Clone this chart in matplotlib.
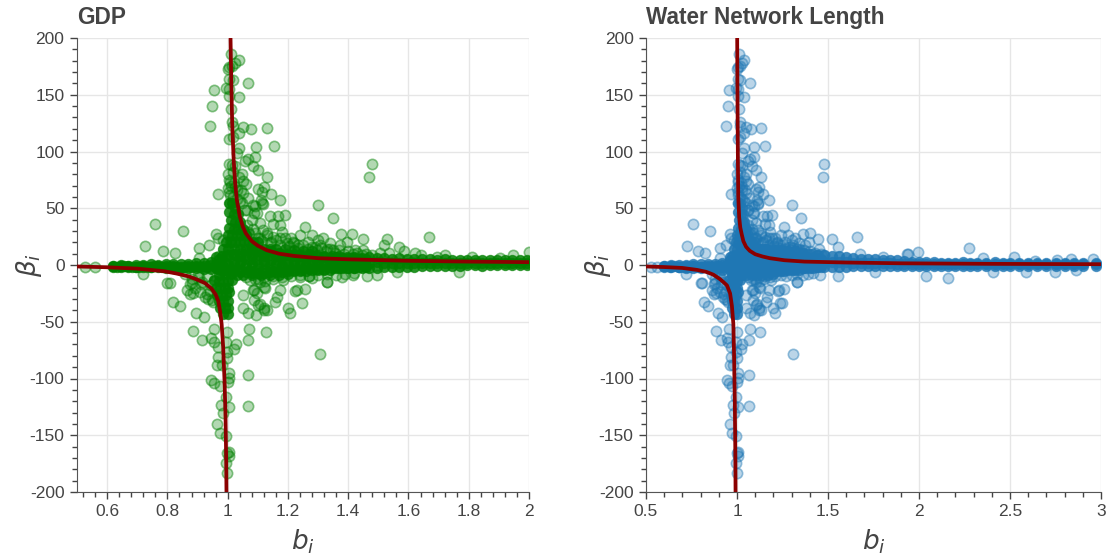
#!/usr/bin/env python3
import matplotlib
matplotlib.use("Agg")
import matplotlib.pyplot as plt
from matplotlib.colors import to_rgba
from matplotlib.ticker import FixedLocator, MultipleLocator

plt.rcParams['font.family'] = ['Liberation Sans', 'DejaVu Sans']
plt.rcParams['mathtext.fontset'] = 'dejavusans'

TEXT_COL = '#444444'
GRID_COL = '#e6e6e6'
CURVE_COL = '#8b0000'

# outliers, nearly the same in both panels
b_top = [1.010, 1.036, 1.025, 1.006, 1.000, 1.014, 1.003, 1.017, 1.069, 0.956, 0.995, 1.006, 1.038, 1.003, 0.948,
         1.010, 0.941, 1.015, 1.019, 1.050, 1.077, 1.132, 1.036, 1.019, 1.006, 1.036, 1.093, 1.153, 1.030, 1.091,
         1.069, 1.058, 1.083, 1.102, 1.003, 1.014, 1.025, 1.019, 1.132, 1.047, 1.036, 1.008, 1.061, 1.102, 1.119,
         1.115, 0.967, 1.003, 1.025, 1.052, 1.067, 1.143, 1.110, 1.174, 1.117, 1.091, 1.008, 1.300, 1.047, 1.088,
         1.058, 1.141, 1.166, 1.191, 1.351, 1.480, 1.470,
         1.000, 1.005, 1.012, 1.020, 1.030, 1.008, 1.018, 1.030, 1.040, 1.000, 1.050, 1.045]
beta_top = [185.9, 180.6, 178.2, 174.1, 172.9, 175.3, 163.5, 163.0, 160.0, 153.9, 155.9, 154.7, 148.0, 148.9, 140.3,
            137.4, 122.7, 126.2, 122.4, 121.3, 119.5, 120.7, 116.0, 113.0, 110.7, 103.3, 104.2, 104.8, 98.3, 94.8,
            93.0, 91.6, 87.5, 83.7, 89.0, 88.0, 87.2, 82.2, 77.8, 80.1, 77.8, 73.4, 71.3, 66.9, 69.0,
            64.6, 62.2, 64.6, 69.0, 63.7, 59.3, 62.5, 57.2, 57.5, 53.7, 51.9, 54.3, 52.8, 54.3, 46.1,
            48.4, 43.1, 43.1, 44.0, 41.1, 89.0, 77.5,
            80.0, 75.0, 70.0, 72.0, 66.0, 62.0, 60.0, 58.0, 56.0, 68.0, 74.0, 66.0]

b_bottom = [0.818, 0.842, 0.895, 0.920, 0.886, 0.914, 0.956, 0.999, 1.070, 1.126, 1.068, 0.944, 0.953, 0.969, 0.995,
            1.028, 1.022, 0.997, 1.305, 0.969, 0.999, 0.964, 0.980, 1.003, 1.067, 1.005, 0.945, 0.955, 0.973, 1.000,
            0.995, 0.977, 1.003, 1.066, 0.983, 0.964, 0.975, 0.994, 1.006, 0.999, 1.004, 0.993, 0.998,
            1.050, 1.086, 1.097, 1.122, 1.163, 1.157, 1.108, 1.122, 1.130, 1.052, 1.069, 1.095, 1.086, 1.199, 1.207,
            1.246, 1.224, 1.257, 1.331, 0.875, 0.909, 0.931, 0.947, 1.229, 1.174, 1.107, 1.085, 1.124, 1.102, 1.119,
            0.809, 0.865, 0.885]
beta_bottom = [-32.3, -36.1, -42.6, -45.5, -57.8, -66.1, -56.7, -58.7, -56.7, -59.3, -66.1, -64.6, -67.5, -71.9, -67.5,
               -69.9, -74.3, -76.3, -78.7, -80.7, -82.2, -87.8, -88.1, -94.8, -97.2, -99.2, -101.3, -104.2, -106.6, -103.0,
               -116.0, -123.3, -125.4, -124.2, -130.7, -140.4, -147.7, -150.6, -164.4, -165.9, -168.0, -174.6, -183.0,
               -26.4, -22.0, -25.0, -19.0, -27.9, -32.9, -34.3, -38.2, -39.6, -38.2, -42.6, -44.0, -30.8, -37.6, -42.6,
               -33.8, -22.9, -21.4, -14.7, -25.5, -23.5, -25.5, -30.8, -22.0, -22.0, -14.7, -22.0, -20.5, -35.2, -39.6,
               -16.0, -22.0, -25.0]

# scatter either side of the band, left of 1 and in the wedge right of it
b_side = [0.759, 0.852, 0.726, 0.785, 0.825, 0.905, 0.938, 0.961, 0.968, 0.985, 1.008, 0.905, 0.970, 0.720, 0.800,
          0.875, 0.527, 0.560, 1.152, 1.174, 1.179, 1.240, 1.279, 1.318, 1.301, 1.257, 1.118, 1.096, 1.085, 1.113,
          1.063, 1.218, 1.340, 1.373, 1.395, 1.130, 1.152, 1.174, 1.196, 1.140, 1.107, 1.090, 1.107, 1.080, 1.063,
          1.069, 1.307, 1.351, 1.210, 1.235, 1.265, 1.290, 1.330, 1.150, 1.185, 1.125, 1.100, 1.075,
          1.040, 1.055, 1.070, 1.085, 1.100, 1.115, 1.130, 1.145, 1.160, 1.175, 1.190, 1.205, 1.220, 1.235, 1.250,
          1.265, 1.280, 1.295, 1.310, 1.325, 1.340, 1.355, 1.370, 1.385, 1.400, 1.415, 1.430, 1.445, 1.460, 1.480,
          1.060, 1.090, 1.120, 1.150, 1.180, 1.210, 1.240, 1.270, 1.300, 1.330, 1.360, 1.390, 1.420,
          0.860, 0.880, 0.900, 0.915, 0.930, 0.945, 0.955, 0.890, 0.910, 0.925, 0.940, 0.950, 0.880, 0.905, 0.935]
beta_side = [36.1, 30.0, 16.3, 12.5, 10.4, 14.7, 17.7, 27.5, 24.0, 22.0, 20.4, 6.0, 8.0, -8.0, -16.0,
             -17.0, -1.5, -2.0, 36.0, 35.0, 29.4, 26.5, 26.5, 23.5, 22.0, 33.8, 30.9, 45.5, 52.9, 54.4,
             48.5, 20.6, 19.1, 17.6, 20.6, 28.0, 25.0, 23.5, 19.0, 19.0, 23.5, 28.0, 36.7, 39.7, 35.0,
             29.4, 17.6, 13.2, 24.0, 18.0, 20.0, 16.0, 14.0, -12.0, -13.0, -14.0, -12.0, -13.0,
             34.0, 30.0, 27.0, 32.0, 24.0, 21.0, 26.0, 20.0, 22.0, 18.0, 24.0, 17.0, 19.0, 15.0, 18.0,
             14.0, 16.0, 13.0, 15.0, 12.0, 14.0, 11.0, 13.0, 10.0, 12.0, 10.0, 11.0, 9.0, 10.0, 9.0,
             -11.0, -12.0, -11.0, -10.0, -11.0, -10.0, -9.0, -10.0, -9.0, -8.0, -9.0, -8.0, -7.0,
             -8.0, -12.0, -9.0, -15.0, -10.0, -18.0, -14.0, -20.0, -17.0, -28.0, -23.0, -33.0, -16.0, -11.0, -30.0]

# right hand tails, differ per panel
gdp_tail_b = [1.412, 1.450, 1.528, 1.669, 1.567, 1.948, 2.000, 1.506, 1.622, 1.694, 1.810, 1.904, 1.329, 1.279, 1.379,
              1.415, 1.461, 1.495, 1.769, 1.561, 1.376, 1.423, 1.450, 1.520, 1.240, 1.270, 1.535, 1.585, 1.640, 1.720]
gdp_tail_beta = [27.0, 22.6, 22.6, 24.4, 16.2, 8.8, 11.8, 10.3, 10.3, 7.4, 7.4, 5.9, -14.7, -11.7, -10.2,
                 -8.8, -9.7, -8.8, -5.8, -5.8, 27.3, 13.2, 13.2, 18.0, -11.0, -10.0, 11.0, 12.0, 9.0, 8.5]
water_tail_b = [1.401, 1.443, 1.520, 1.661, 1.557, 1.993, 1.936, 1.804, 1.328, 1.236, 2.039, 1.758, 1.456, 1.938, 2.277,
                2.161, 2.409, 2.586, 2.747, 2.522, 2.354, 2.833, 2.958, 2.757, 1.364, 1.557, 1.450, 1.676, 2.860, 2.640]
water_tail_beta = [28.0, 22.6, 22.6, 24.4, 16.0, 11.8, 9.4, 7.4, -14.7, -33.7, -9.7, -6.4, -8.8, 9.4, 14.6,
                   -11.2, -5.9, -5.9, -5.9, 7.3, 5.8, 5.0, 5.0, 4.4, 27.0, -9.7, 14.0, 10.0, -4.5, 3.5]

# saturated blob around b = 1
blob_b = [1.005, 1.015, 1.025, 1.005, 1.020, 1.035, 1.010, 1.025, 1.040, 1.005, 1.020, 1.035, 1.050, 1.000, 1.015,
          1.030, 1.045, 1.060, 0.995, 1.010, 1.025, 1.040, 1.055, 1.070, 1.085, 1.100, 0.985, 1.000, 1.020, 1.040,
          1.060, 1.080, 1.100, 1.120, 1.140, 1.160, 1.190, 1.220, 1.250, 1.280, 0.990, 1.010, 0.970, 1.030, 1.050,
          1.080, 1.110, 1.140, 1.170, 1.200, 0.955, 0.970, 0.985, 1.000, 1.015, 0.960, 0.975, 0.990, 1.000, 0.965,
          0.980, 0.995, 1.005, 0.970, 0.985, 1.000, 0.975, 0.990, 1.000, 0.985, 1.000]
blob_beta = [55, 55, 50, 47, 45, 45, 40, 38, 38, 33, 32, 32, 32, 26, 26,
             26, 26, 26, 20, 20, 20, 20, 20, 20, 20, 20, 14, 14, 14, 14,
             14, 14, 14, 14, 14, 14, 14, 13, 12, 12, -8, -8, -9, -9, -9,
             -9, -9, -9, -9, -8, -13, -14, -14, -14, -13, -20, -20, -20, -20, -26,
             -26, -26, -24, -32, -32, -32, -38, -38, -38, -43, -43]

# extra filled rows where the band is thickest
fill_b = [0.960, 0.980, 1.000, 1.020, 1.040, 1.060, 1.080, 1.100, 1.120, 1.140, 1.160, 1.180, 1.200,
          1.220, 1.240, 1.260, 1.280, 1.300, 1.320, 1.340, 1.360, 1.380, 1.400, 1.420, 1.440, 1.460]
fill_beta_a = [7, 8, 9, 9, 8, 9, 8, 9, 8, 9, 8, 8, 9, 8, 8, 7, 8, 7, 7, 6, 7, 6, 6, 6, 5, 5]
fill_beta_b = [0, 0, 1, 0, 1, 0, 1, 0, 1, 0, 1, 0, 1, 0, 1, 0, 1, 0, 1, 0, 1, 0, 1, 0, 1, 0]
fill_beta_c = [-3, -4, -5, -5, -6, -6, -7, -7, -7, -6, -6, -6, -5, -5, -5, -5, -4, -4, -4, -4, -3, -3, -3, -3, -2, -2]
left_b = [0.632, 0.657, 0.682, 0.707, 0.732, 0.757, 0.782, 0.807, 0.832, 0.857, 0.882, 0.907, 0.932, 0.957, 0.983]
left_beta = [-2, -1, -2, -2, -2, -1, -2, -2, -2, -2, -2, -2, -2, -2, -2]

# dense band along beta = 0, three values per b
gdp_band_b = [0.620, 0.645, 0.670, 0.695, 0.720, 0.745, 0.770, 0.795, 0.820, 0.845, 0.870, 0.895, 0.920, 0.945, 0.970,
              0.995, 1.020, 1.045, 1.070, 1.095, 1.120, 1.145, 1.170, 1.195, 1.220, 1.245, 1.270, 1.295, 1.320, 1.345,
              1.370, 1.395, 1.420, 1.445, 1.470, 1.495, 1.520, 1.545, 1.570, 1.595, 1.620, 1.645, 1.670, 1.695, 1.720,
              1.745, 1.770, 1.795, 1.820, 1.845, 1.870, 1.895, 1.920, 1.945, 1.970, 1.995]
gdp_band_hi = [-0.5, 0.0, -0.5, 0.0, 0.0, 0.5, 0.0, 0.5, 1.0, 0.5, 1.0, 1.5, 2.0, 3.0, 5.0,
               8.0, 10.0, 11.0, 12.0, 12.0, 11.0, 12.0, 11.0, 10.0, 10.0, 9.0, 10.0, 9.0, 8.0, 8.0,
               8.0, 7.0, 7.0, 6.5, 7.0, 6.0, 6.0, 5.5, 6.0, 5.0, 5.5, 5.0, 5.0, 4.5, 5.0,
               4.5, 4.0, 4.5, 4.0, 4.5, 4.0, 4.0, 4.5, 4.0, 4.0, 4.5]
gdp_band_mid = [-1.0, -1.0, -1.0, -1.5, -1.0, -1.5, -1.0, -1.0, -1.0, -1.5, -1.0, -1.0, -0.5, 0.0, 1.0,
                2.0, 3.0, 3.5, 4.0, 4.0, 3.5, 4.0, 3.5, 3.5, 3.0, 3.5, 3.0, 3.0, 2.5, 3.0,
                3.0, 2.5, 2.5, 2.5, 2.0, 2.5, 2.0, 2.0, 2.0, 2.0, 2.0, 2.0, 2.0, 2.0, 2.0,
                2.0, 2.0, 2.0, 2.0, 2.0, 2.0, 2.0, 2.0, 2.0, 2.0, 2.0]
gdp_band_lo = [-1.5, -1.5, -2.0, -1.5, -2.0, -2.0, -2.0, -2.5, -2.5, -3.0, -3.0, -3.0, -3.5, -3.5, -4.0,
               -4.0, -4.0, -4.5, -4.0, -4.5, -4.0, -4.0, -4.5, -4.0, -4.0, -4.0, -3.5, -3.5, -3.5, -3.0,
               -3.0, -3.0, -3.0, -2.5, -2.5, -2.5, -2.0, -2.0, -2.0, -1.5, -1.5, -1.0, -1.0, -1.0, -0.5,
               -0.5, -0.5, 0.0, 0.0, -0.5, 0.0, 0.0, 0.0, 0.0, 0.0, 0.0]

water_band_b = [0.600, 0.640, 0.680, 0.720, 0.760, 0.800, 0.840, 0.880, 0.920, 0.960, 1.000, 1.040, 1.080, 1.120, 1.160,
                1.200, 1.240, 1.280, 1.320, 1.360, 1.400, 1.440, 1.480, 1.520, 1.560, 1.600, 1.640, 1.680, 1.720, 1.760,
                1.800, 1.840, 1.880, 1.920, 1.960, 2.000, 2.040, 2.080, 2.120, 2.160, 2.200, 2.240, 2.280, 2.320, 2.370,
                2.420, 2.460, 2.500, 2.550, 2.600, 2.650, 2.700, 2.750, 2.800, 2.850, 2.900, 2.970]
water_band_hi = [-0.5, 0.0, 0.0, 0.0, 0.5, 0.5, 1.0, 1.0, 2.0, 4.0, 8.0, 12.0, 13.0, 14.0, 14.0,
                 13.0, 13.0, 12.0, 12.0, 11.0, 10.0, 9.0, 8.5, 8.0, 7.5, 7.0, 6.0, 5.5, 5.0, 5.0,
                 4.5, 4.0, 4.0, 3.5, 3.0, 3.0, 2.5, 2.5, 2.0, 2.0, 2.0, 2.5, 2.0, 2.0, 2.0,
                 2.5, 2.0, 2.0, 2.0, 1.5, 2.0, 1.5, 2.0, 2.0, 2.0, 1.5, 2.0]
water_band_mid = [-1.0, -1.0, -1.5, -1.0, -1.0, -1.5, -1.0, -1.0, 0.0, 1.0, 2.0, 4.0, 4.0, 5.0, 5.0,
                  5.0, 4.5, 4.5, 4.0, 4.0, 4.0, 3.5, 3.0, 3.0, 2.5, 2.5, 2.0, 2.0, 2.0, 1.5,
                  1.5, 1.5, 1.0, 1.0, 1.0, 1.0, 1.0, 1.0, 0.5, 0.5, 0.5, 0.5, 0.5, 0.5, 0.5,
                  0.5, 0.5, 0.5, 0.5, 0.5, 0.5, 0.5, 0.5, 0.5, 0.5, 0.5, 0.5]
water_band_lo = [-1.5, -2.0, -2.0, -2.5, -2.5, -3.0, -3.0, -3.5, -4.0, -4.0, -4.5, -4.5, -4.0, -3.5, -3.0,
                 -3.0, -3.0, -2.5, -2.5, -2.5, -2.0, -2.0, -2.0, -1.5, -1.5, -1.5, -1.0, -1.0, -1.0, -1.0,
                 -1.0, -1.0, -1.0, -1.0, -1.0, -1.0, -1.0, -1.0, -1.0, -1.0, -1.0, -1.0, -0.5, -0.5, -1.0,
                 -1.0, -1.0, -1.0, -0.5, -0.5, -1.0, -0.5, -1.0, -1.0, -0.5, -0.5, -1.0]

# fitted curves
gdp_up_b = [1.0095, 1.012, 1.015, 1.020, 1.025, 1.030, 1.040, 1.050, 1.060, 1.080, 1.100, 1.130, 1.170, 1.220, 1.300, 1.400, 1.600, 1.800, 2.000]
gdp_up_beta = [200, 160, 125, 92, 72, 58, 43, 34, 28, 21, 17, 13, 10, 8, 6, 5, 3.7, 3, 2.5]
gdp_low_b = [0.996, 0.995, 0.993, 0.990, 0.985, 0.980, 0.975, 0.969, 0.960, 0.947, 0.925, 0.900, 0.870, 0.830, 0.790, 0.700, 0.600, 0.500]
gdp_low_beta = [-200, -170, -135, -105, -72, -52, -41, -32, -26, -21, -16, -13, -10, -7.5, -5.5, -3.2, -2, -1.3]
water_up_b = [1.001, 1.003, 1.005, 1.007, 1.012, 1.018, 1.026, 1.035, 1.050, 1.070, 1.100, 1.140, 1.180, 1.260, 1.370, 1.600, 1.900, 2.400, 3.000]
water_up_beta = [200, 140, 90, 60, 42, 33, 27, 21, 16, 12.5, 9.5, 7.5, 6, 4.2, 3, 2.2, 1.5, 1, 0.7]
water_low_b = [0.992, 0.991, 0.988, 0.984, 0.980, 0.972, 0.962, 0.945, 0.925, 0.907, 0.870, 0.830, 0.780, 0.700, 0.600, 0.500]
water_low_beta = [-200, -170, -120, -80, -52, -36, -25, -18, -15, -12.5, -8.5, -6, -4.3, -2.6, -1.8, -1.3]

gdp_xticks = [0.6, 0.8, 1, 1.2, 1.4, 1.6, 1.8, 2]
gdp_xlabels = ['0.6', '0.8', '1', '1.2', '1.4', '1.6', '1.8', '2']
water_xticks = [0.5, 1, 1.5, 2, 2.5, 3]
water_xlabels = ['0.5', '1', '1.5', '2', '2.5', '3']
yticks = [-200, -150, -100, -50, 0, 50, 100, 150, 200]
ylabels = ['-200', '-150', '-100', '-50', '0', '50', '100', '150', '200']


def plot_panel(ax, title, colour, tail_b, tail_beta, band_b, band_hi, band_mid, band_lo,
               up_b, up_beta, low_b, low_beta, xlim, xticks, xlabels, xminor):
    light_x = b_top + b_bottom + b_side + tail_b
    light_y = beta_top + beta_bottom + beta_side + tail_beta
    ax.scatter(light_x, light_y, s=55, facecolor=to_rgba(colour, 0.3), edgecolor=to_rgba(colour, 0.45), linewidth=1.2, zorder=2)
    core_x = band_b * 3 + blob_b + fill_b * 3 + left_b
    core_y = band_hi + band_mid + band_lo + blob_beta + fill_beta_a + fill_beta_b + fill_beta_c + left_beta
    ax.scatter(core_x, core_y, s=55, facecolor=to_rgba(colour, 0.85), edgecolor=to_rgba(colour, 0.6), linewidth=0.8, zorder=3)
    ax.plot(up_b, up_beta, color=CURVE_COL, lw=2.7, zorder=4, solid_capstyle='butt')
    ax.plot(low_b, low_beta, color=CURVE_COL, lw=2.7, zorder=4, solid_capstyle='butt')

    ax.set_xlim(xlim)
    ax.set_ylim(-200, 200)
    ax.xaxis.set_major_locator(FixedLocator(xticks))
    ax.set_xticklabels(xlabels)
    ax.xaxis.set_minor_locator(MultipleLocator(xminor))
    ax.yaxis.set_major_locator(FixedLocator(yticks))
    ax.set_yticklabels(ylabels)
    ax.yaxis.set_minor_locator(MultipleLocator(10))
    ax.grid(True, which='major', color=GRID_COL, lw=1)
    ax.set_axisbelow(True)
    ax.spines['top'].set_visible(False)
    ax.spines['right'].set_visible(False)
    ax.spines['left'].set_color('#555555')
    ax.spines['bottom'].set_color('#555555')
    ax.tick_params(which='major', length=5, width=1, color='#444444', labelcolor=TEXT_COL, labelsize=12.5, pad=4)
    ax.tick_params(which='minor', length=3.5, width=1, color='#444444')
    ax.set_xlabel(r'$b_i$', fontsize=19, color=TEXT_COL, labelpad=6)
    ax.set_ylabel(r'$\beta_i$', fontsize=19, color=TEXT_COL, labelpad=-10)
    ax.set_title(title, loc='left', fontsize=16.3, fontweight='bold', color=TEXT_COL, pad=10)


fig = plt.figure(figsize=(11.08, 5.55), dpi=100)
ax_gdp = fig.add_axes([77 / 1108, 63 / 555, 452 / 1108, 454 / 555])
ax_water = fig.add_axes([646 / 1108, 63 / 555, 455 / 1108, 454 / 555])

plot_panel(ax_gdp, 'GDP', 'green', gdp_tail_b, gdp_tail_beta, gdp_band_b, gdp_band_hi, gdp_band_mid, gdp_band_lo,
           gdp_up_b, gdp_up_beta, gdp_low_b, gdp_low_beta, (0.5, 2), gdp_xticks, gdp_xlabels, 0.04)
plot_panel(ax_water, 'Water Network Length', '#1f77b4', water_tail_b, water_tail_beta, water_band_b, water_band_hi, water_band_mid, water_band_lo,
           water_up_b, water_up_beta, water_low_b, water_low_beta, (0.5, 3), water_xticks, water_xlabels, 0.1)

fig.savefig('out.png', dpi=100)
